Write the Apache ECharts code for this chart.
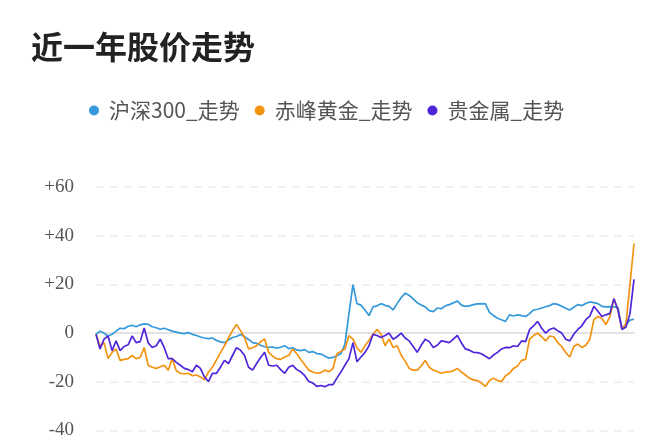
<!DOCTYPE html>
<html>
<head>
<meta charset="utf-8">
<script src="https://cdn.jsdelivr.net/npm/echarts@6/dist/echarts.min.js"></script>
<style>html,body{margin:0;padding:0;background:#fff;}#c{width:672px;height:440px;}</style>
</head>
<body>
<div id="c"></div>
<script>
const titleText = '近一年股价走势';
const seriesNames = ['沪深300_走势', '赤峰黄金_走势', '贵金属_走势'];
const yTicks = [-40, -20, 0, 20, 40, 60];

const hs300 = [-0.5,0.8,0,-1.2,-0.5,0.8,2,1.8,2.8,3.2,2.6,3.4,3.8,3.6,2.6,2.2,1.6,2,1.4,0.8,0.4,0,-0.2,0.2,-0.5,-1,-1.6,-2,-2.3,-2,-3,-3.6,-3.9,-2.8,-1.8,-1.4,-0.6,-1.5,-2.6,-3.9,-4.2,-5,-5.6,-5.9,-5.7,-6.2,-5.8,-5.2,-6.4,-6,-6.9,-7.2,-6.8,-7.9,-7.6,-8.4,-8.6,-9.4,-10.3,-10,-9.3,-8.5,-4.5,8,19.9,12.1,11.5,9.5,7.2,10.8,11.2,12.1,11.4,11,9.5,12.1,14.5,16.4,15.5,14.1,12.5,11.5,10.8,9.2,8.8,10.3,10,11.2,11.7,12.4,13.2,11.5,11,11.2,11.7,12,12.1,12,8.5,7.2,6.1,5.5,4.8,7.5,7,7.5,7.2,6.8,8,9.5,9.8,10.3,10.8,11.3,12.1,11.8,11,10.2,9.5,10.6,11.7,11.3,12.2,12.8,12.5,12.1,11,10.8,10.9,10.8,10.5,2,3.5,5.3,5.7];
const chifeng = [-0.5,-5.2,-3.9,-10.5,-7.9,-6.5,-11.2,-10.8,-10.5,-9.2,-10.5,-10,-5.9,-13.2,-14,-14.5,-13.8,-13.2,-15.2,-10.5,-15.5,-16.5,-16.8,-16.5,-17.5,-17.2,-18,-19.2,-16,-14,-11,-8,-5.2,-2,1,3.6,1,-1.8,-6.5,-6,-5.2,-3.5,-2.4,-7.9,-9.5,-10.5,-10.8,-9.8,-9.2,-6.5,-8.5,-10.8,-13,-15.2,-16,-16.5,-16.2,-15.2,-15.9,-14.5,-8.5,-7.5,-6.5,-1,-2.5,-6,-7.9,-5.2,-3,-0.5,1.5,-0.5,-5.2,-2.4,-5.9,-5.2,-9,-11.5,-14.5,-15.2,-15.2,-13.5,-11.2,-14,-15.2,-15.8,-16.5,-16,-15.9,-15.5,-14.5,-16,-17.2,-18.5,-19.2,-19.5,-20.5,-21.9,-19.5,-18.5,-19.5,-19.9,-17.5,-16.5,-14.5,-13.5,-11.2,-10.8,-2.5,-1,0,-1.5,-3.2,-1.2,-1.5,-3.9,-5.5,-8,-9.8,-5.5,-4.5,-5.9,-5,-2.5,5.5,6.8,6,3.5,6.8,14.1,9.5,1.5,4,20,36.8];
const metals = [-0.5,-6.5,-2.5,-1.2,-7.2,-3.2,-7.2,-5.5,-4.8,-1.2,-3.9,-3.5,2.1,-4,-5.9,-5.2,-2.5,-6,-10.5,-10.5,-12,-13.2,-14.5,-15,-15.9,-13.2,-14.5,-18,-19.9,-16.5,-16.5,-14,-11.2,-12.5,-9.2,-6,-7,-9.2,-14,-15.2,-12.5,-10,-7.9,-13.2,-13.5,-13.2,-15,-16.5,-14,-13.2,-15,-15.9,-17.5,-19.9,-20.5,-21.9,-21.5,-22,-21.2,-21.2,-18.5,-16,-13.2,-10.5,-3.9,-11.8,-9.8,-7.9,-5.2,-0.5,-1,-1.8,-1,0,-2.5,-1.5,0,-2,-3.2,-5.5,-7.9,-5,-2.5,-3.5,-5.9,-5,-3.2,-3.5,-3.9,-2.5,-0.9,-4,-6.5,-7,-7.9,-8,-8.5,-9.5,-10.5,-9,-7.9,-6.5,-5.9,-6,-5.2,-5.5,-3.2,-3.5,1.5,3,4.8,2,0,1.5,2.1,1,0,-2.5,-3.2,-0.5,1.5,3,5.5,7,11,9,6.8,7.5,8.1,14.1,9.5,1.5,2.5,8,22.1];

const days = hs300.map((_, i) => 'D' + (i + 1));
const colors = ['#3498db', '#f39312', '#4f25d9'];

const chart = echarts.init(document.getElementById('c'));
chart.setOption({
  animation: false,
  color: colors,
  title: {
    text: titleText, left: 26, top: 26,
    textStyle: { fontSize: 32, fontWeight: 'bold', color: '#222', fontFamily: 'Noto Sans CJK SC' }
  },
  legend: {
    top: 95, left: 84, icon: 'circle', itemWidth: 20, itemHeight: 10, itemGap: 15,
    textStyle: { fontSize: 21, color: '#555', fontFamily: 'Noto Sans CJK SC' },
    data: seriesNames
  },
  grid: { left: 96, right: 38, top: 187, bottom: 3, containLabel: false },
  xAxis: {
    type: 'category', data: days, boundaryGap: false,
    axisLine: { lineStyle: { color: '#e3e3e3', width: 2 } },
    axisTick: { show: false }, axisLabel: { show: false }
  },
  yAxis: {
    type: 'value', min: -40, max: 60, interval: 20,
    axisLine: { show: false }, axisTick: { show: false },
    axisLabel: {
      margin: 22, fontSize: 19, color: '#555', fontFamily: 'Liberation Serif',
      formatter: v => (yTicks.indexOf(v) >= 0 ? (v > 0 ? '+' + v : String(v)) : '')
    },
    splitLine: { lineStyle: { type: [8, 6], color: '#ebebeb', width: 1.5 } }
  },
  series: [
    { name: seriesNames[0], type: 'line', data: hs300, showSymbol: false, lineStyle: { width: 1.7 } },
    { name: seriesNames[1], type: 'line', data: chifeng, showSymbol: false, lineStyle: { width: 1.7 } },
    { name: seriesNames[2], type: 'line', data: metals, showSymbol: false, lineStyle: { width: 1.7 } }
  ]
});
</script>
</body>
</html>
